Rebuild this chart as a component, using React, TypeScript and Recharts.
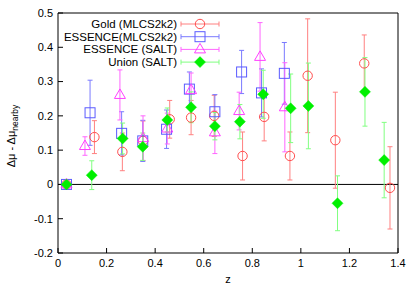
import React from 'react'
import { ScatterChart, Scatter, XAxis, YAxis, ErrorBar, ReferenceLine } from 'recharts'

document.body.style.margin = '0'

const xTicks = [0, 0.2, 0.4, 0.6, 0.8, 1, 1.2, 1.4]
const yTicks = [-0.2, -0.1, 0, 0.1, 0.2, 0.3, 0.4, 0.5]

// Gold (MLCS2k2)
const goldZ = [0.035, 0.15, 0.265, 0.35, 0.46, 0.548, 0.643, 0.76, 0.849, 0.955, 1.028, 1.142, 1.261, 1.367]
const goldDmu = [0.0, 0.138, 0.095, 0.127, 0.19, 0.195, 0.2, 0.083, 0.197, 0.083, 0.317, 0.129, 0.353, -0.01]
const goldErr = [0.005, 0.048, 0.055, 0.058, 0.055, 0.05, 0.06, 0.07, 0.07, 0.07, 0.166, 0.14, 0.083, 0.12]

// ESSENCE (MLCS2k2)
const essMZ = [0.035, 0.132, 0.262, 0.349, 0.447, 0.541, 0.646, 0.756, 0.838, 0.932]
const essMDmu = [0.0, 0.209, 0.149, 0.127, 0.161, 0.278, 0.212, 0.328, 0.267, 0.324]
const essMErr = [0.005, 0.095, 0.063, 0.06, 0.056, 0.05, 0.05, 0.063, 0.07, 0.09]

// ESSENCE (SALT)
const essSZ = [0.035, 0.111, 0.255, 0.35, 0.45, 0.548, 0.646, 0.746, 0.832, 0.934]
const essSDmu = [0.0, 0.112, 0.261, 0.135, 0.163, 0.275, 0.152, 0.214, 0.372, 0.225]
const essSErr = [0.005, 0.027, 0.073, 0.065, 0.045, 0.05, 0.062, 0.055, 0.1, 0.13]

// Union (SALT)
const unionZ = [0.035, 0.139, 0.266, 0.349, 0.45, 0.548, 0.646, 0.749, 0.845, 0.958, 1.031, 1.151, 1.264, 1.343]
const unionDmu = [0.0, 0.027, 0.134, 0.11, 0.188, 0.225, 0.17, 0.183, 0.263, 0.222, 0.229, -0.055, 0.27, 0.071]
const unionErr = [0.005, 0.042, 0.045, 0.04, 0.035, 0.045, 0.04, 0.05, 0.07, 0.1, 0.125, 0.08, 0.1, 0.11]

const FONT = '"Liberation Sans", Arial, Helvetica, sans-serif'

const toRows = (z: number[], v: number[], e: number[]) =>
  z.map((zz, i) => ({ z: zz, dmu: v[i], err: e[i] }))

type MarkerKind = 'circle' | 'square' | 'triangle' | 'diamond'

function Marker({ kind, cx, cy, color }: { kind: MarkerKind; cx: number; cy: number; color: string }) {
  if (kind === 'circle') return <circle cx={cx} cy={cy} r={4.7} fill="none" stroke={color} strokeWidth={1} />
  if (kind === 'square') return <rect x={cx - 5} y={cy - 5} width={10} height={10} fill="none" stroke={color} strokeWidth={1} />
  if (kind === 'triangle')
    return (
      <polygon
        points={`${cx},${cy - 6} ${cx - 5.5},${cy + 3.5} ${cx + 5.5},${cy + 3.5}`}
        fill="none"
        stroke={color}
        strokeWidth={1}
      />
    )
  return (
    <polygon
      points={`${cx},${cy - 5.5} ${cx + 5.5},${cy} ${cx},${cy + 5.5} ${cx - 5.5},${cy}`}
      fill={color}
      stroke={color}
      strokeWidth={0.5}
    />
  )
}

const series = [
  { name: 'Gold (MLCS2k2)', data: toRows(goldZ, goldDmu, goldErr), kind: 'circle' as MarkerKind, mark: '#ff4d4d', bar: '#ff8080' },
  { name: 'ESSENCE(MLCS2k2)', data: toRows(essMZ, essMDmu, essMErr), kind: 'square' as MarkerKind, mark: '#5a5aff', bar: '#7a7aff' },
  { name: 'ESSENCE (SALT)', data: toRows(essSZ, essSDmu, essSErr), kind: 'triangle' as MarkerKind, mark: '#ff40ff', bar: '#ff66ff' },
  { name: 'Union (SALT)', data: toRows(unionZ, unionDmu, unionErr), kind: 'diamond' as MarkerKind, mark: '#00f000', bar: '#80ff80' },
]

function Overlay() {
  return (
    <svg
      width={409}
      height={287}
      style={{ position: 'absolute', left: 0, top: 0, pointerEvents: 'none' }}
      fontFamily={FONT}
    >
      {series.map((s, i) => {
        const y = 24 + i * 12.7
        return (
          <g key={s.name}>
            <text x={177} y={y} textAnchor="end" dominantBaseline="central" fontSize={11.5} fill="#000">
              {s.name}
            </text>
            <line x1={181} x2={219} y1={y} y2={y} stroke={s.bar} />
            <line x1={181} x2={181} y1={y - 2.5} y2={y + 2.5} stroke={s.bar} />
            <line x1={219} x2={219} y1={y - 2.5} y2={y + 2.5} stroke={s.bar} />
            <Marker kind={s.kind} cx={200} cy={y} color={s.mark} />
          </g>
        )
      })}
      <text transform="translate(15,136) rotate(-90)" textAnchor="middle" fontSize={11} fill="#000">
        Δμ - Δμ
        <tspan dy={3} fontSize={8.5}>nearby</tspan>
      </text>
    </svg>
  )
}

export default function App() {
  return (
    <div style={{ position: 'relative', width: 409, height: 287, background: '#fff' }}>
      <ScatterChart width={409} height={287} margin={{ top: 12, right: 10, left: 0, bottom: 0 }}>
        <XAxis
          type="number"
          dataKey="z"
          domain={[0, 1.4]}
          ticks={xTicks}
          tickSize={-5}
          tickMargin={11}
          height={34}
          axisLine={{ stroke: '#000' }}
          tickLine={{ stroke: '#000' }}
          tick={{ fontSize: 11, fill: '#000', fontFamily: FONT }}
          label={{ value: 'z', position: 'insideBottom', offset: 4, fontSize: 11, fill: '#000', fontFamily: FONT }}
        />
        <XAxis
          xAxisId="top"
          orientation="top"
          type="number"
          domain={[0, 1.4]}
          ticks={xTicks}
          tickSize={-5}
          height={1}
          tick={false}
          axisLine={{ stroke: '#000' }}
          tickLine={{ stroke: '#000' }}
          allowDataOverflow
        />
        <YAxis
          type="number"
          dataKey="dmu"
          domain={[-0.2, 0.5]}
          ticks={yTicks}
          tickSize={-5}
          tickMargin={10}
          width={58}
          axisLine={{ stroke: '#000' }}
          tickLine={{ stroke: '#000' }}
          tick={{ fontSize: 11, fill: '#000', fontFamily: FONT }}
        />
        <YAxis
          yAxisId="right"
          orientation="right"
          type="number"
          domain={[-0.2, 0.5]}
          ticks={yTicks}
          tickSize={-5}
          width={1}
          tick={false}
          axisLine={{ stroke: '#000' }}
          tickLine={{ stroke: '#000' }}
          allowDataOverflow
        />
        <ReferenceLine y={0} stroke="#000" strokeWidth={1} />
        {series.map((s) => (
          <Scatter
            key={s.name}
            name={s.name}
            data={s.data}
            isAnimationActive={false}
            shape={(p: any) => <Marker kind={s.kind} cx={p.cx} cy={p.cy} color={s.mark} />}
          >
            <ErrorBar dataKey="err" direction="y" width={2.5} stroke={s.bar} strokeWidth={1} />
          </Scatter>
        ))}
      </ScatterChart>
      <Overlay />
    </div>
  )
}
